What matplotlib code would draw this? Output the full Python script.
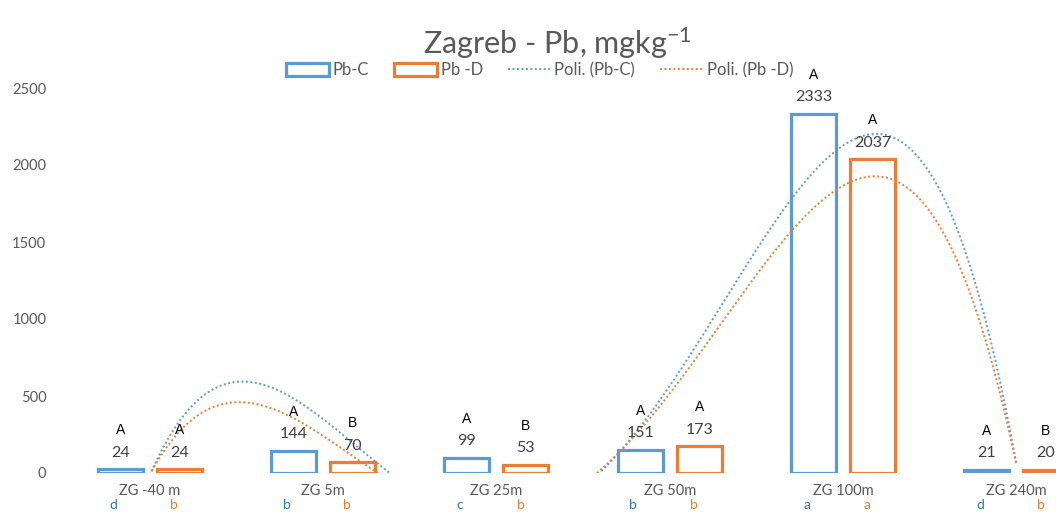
import numpy as np
import matplotlib.pyplot as plt
from matplotlib.patches import Patch
from matplotlib.lines import Line2D

categories = ['ZG -40 m', 'ZG 5m', 'ZG 25m', 'ZG 50m', 'ZG 100m', 'ZG 240m']
pb_c = [24, 144, 99, 151, 2333, 21]
pb_d = [24, 70, 53, 173, 2037, 20]
upper_c = ['A', 'A', 'A', 'A', 'A', 'A']
upper_d = ['A', 'B', 'B', 'A', 'A', 'B']
lower_c = ['d', 'b', 'c', 'b', 'a', 'd']
lower_d = ['b', 'b', 'b', 'b', 'a', 'b']

blue = '#5b9bd5'
orange = '#ed7d31'
grey = '#595959'
plt.rcParams['font.family'] = ['Lato', 'DejaVu Sans']
plt.rcParams['mathtext.fontset'] = 'custom'
plt.rcParams['mathtext.rm'] = 'Lato'
plt.rcParams['mathtext.it'] = 'Lato'
plt.rcParams['mathtext.default'] = 'rm'

fig = plt.figure(figsize=(10.56, 5.13), dpi=100)
# plot area runs past the right edge, as in the cropped original
ax = fig.add_axes([63 / 1056, 40 / 513, 1040 / 1056, 385 / 513])

x = np.arange(1, len(categories) + 1)
w = 0.26
off = 0.17
ax.bar(x - off, pb_c, w, facecolor='white', edgecolor=blue, linewidth=2.3)
ax.bar(x + off, pb_d, w, facecolor='white', edgecolor=orange, linewidth=2.3)

# polynomial (order 4) trendlines, like Excel
xs = np.linspace(1, 6, 400)
for vals, col in [(pb_c, blue), (pb_d, orange)]:
    p = np.polyfit(x, vals, 4)
    ax.plot(xs, np.polyval(p, xs), color=col, lw=1.4, ls=(0, (1, 1.3)))

ax.set_xlim(0.5, 6.5)
ax.set_ylim(0, 2500)
ax.set_yticks(range(0, 2501, 500))
ax.set_xticks(x)
ax.set_xticklabels(categories)
ax.tick_params(length=0, colors=grey, labelsize=10.5)
ax.tick_params(axis='y', pad=12)
ax.tick_params(axis='x', pad=8)
for s in ax.spines.values():
    s.set_visible(False)

for xi, vals, ups, lows, dx, lx, lcol in [
        (x, pb_c, upper_c, lower_c, -off, -0.21, '#2e75b6'),
        (x, pb_d, upper_d, lower_d, off, 0.14, orange)]:
    for i in range(len(xi)):
        ax.annotate(str(vals[i]), (xi[i] + dx, vals[i]), xytext=(0, 12),
                    textcoords='offset points', ha='center', va='center',
                    color='#404040', fontsize=11.5, annotation_clip=False)
        ax.annotate(ups[i], (xi[i] + dx, vals[i]), xytext=(0, 28),
                    textcoords='offset points', ha='center', va='center',
                    color='black', fontsize=10, family='Liberation Sans',
                    annotation_clip=False)
        ax.annotate(lows[i], (xi[i] + lx, 0), xytext=(0, -23),
                    textcoords='offset points', ha='center', va='center',
                    color=lcol, fontsize=10, annotation_clip=False)

fig.text(0.528, 0.915, 'Zagreb - Pb, mgkg$^{-1}$', ha='center', va='center',
         fontsize=22, color=grey)

handles = [Patch(facecolor='white', edgecolor=blue, lw=2.3),
           Patch(facecolor='white', edgecolor=orange, lw=2.3),
           Line2D([], [], color=blue, lw=1.4, ls=(0, (1, 1.3))),
           Line2D([], [], color=orange, lw=1.4, ls=(0, (1, 1.3)))]
leg = fig.legend(handles, ['Pb-C', 'Pb -D', 'Poli. (Pb-C)', 'Poli. (Pb -D)'],
                 loc='center', bbox_to_anchor=(0.511, 0.863), ncol=4,
                 frameon=False, fontsize=12, handlelength=2.6,
                 handleheight=0.8, handletextpad=0.2, columnspacing=1.5)
for t in leg.get_texts():
    t.set_color(grey)

fig.savefig('out.png', dpi=100)
